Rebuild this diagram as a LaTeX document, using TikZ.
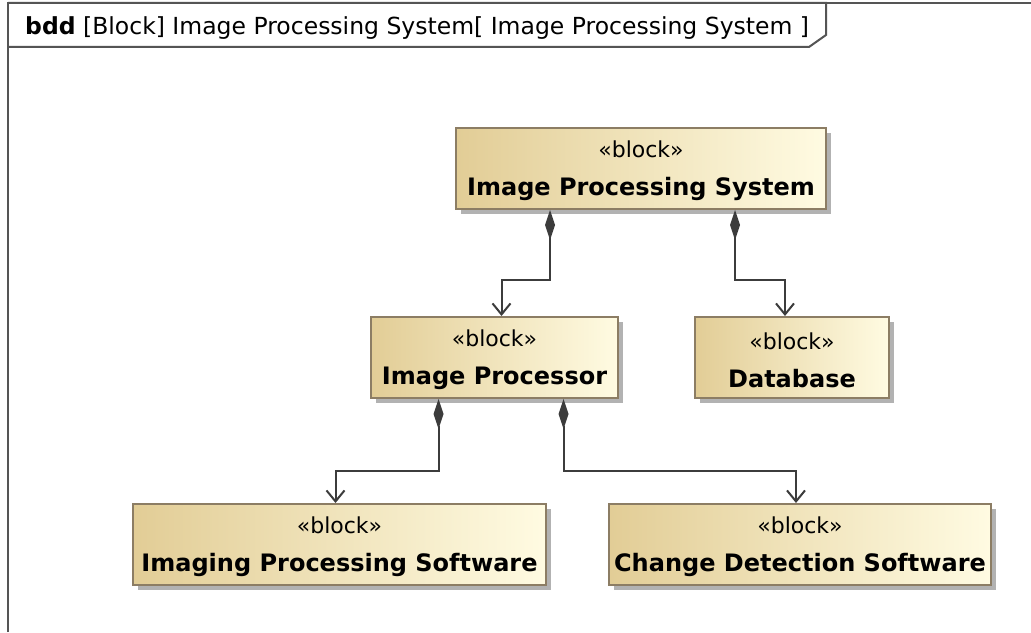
\documentclass[tikz,border=0pt]{standalone}
\usepackage{fontspec}
\setmainfont{DejaVu Sans}
\usetikzlibrary{arrows.meta,shadows}

\definecolor{blockline}{RGB}{140,125,100}
\definecolor{blockleft}{RGB}{226,205,150}
\definecolor{blockright}{RGB}{255,251,226}
\definecolor{wire}{RGB}{60,60,60}
\definecolor{framegray}{RGB}{85,85,85}

\newcommand{\blocktext}[1]{{\fontsize{22}{38}\selectfont\rule{0pt}{22pt}«block»}\\{\bfseries #1}}

\begin{document}
\begin{tikzpicture}[x=1pt, y=1pt,
    block/.style={draw=blockline, line width=2pt, left color=blockleft, right color=blockright,
        drop shadow={shadow xshift=5pt, shadow yshift=-5pt, fill=black!30, opacity=1},
        align=center, inner sep=0pt, minimum height=81pt, font=\fontsize{24}{38}\selectfont},
    comp/.style={wire, line width=2pt, {Diamond[length=30pt,width=10pt]}-{Straight Barb[length=11pt,width=18pt]}}]
    		\useasboundingbox (0,0) rectangle (1031,632);
    		\fill[white] (0,0) rectangle (1031,632);
    		\draw[framegray, line width=2pt] (8,0) -- (8,629) -- (1031,629);
    		\draw[framegray, line width=2pt] (8,629) -- (826,629) -- (826,597) -- (809,585) -- (8,585);
    		\node[anchor=base west, inner sep=0pt, font=\fontsize{23.5}{27}\selectfont] (title) at (25,597)
    			{\textbf{bdd} [Block] Image Processing System[ Image Processing System ]};
    		\node[block, minimum width=370pt] (ips) at (641,463.5) {\blocktext{Image Processing System}};
    		\node[block, minimum width=247pt] (ip) at (494.5,274.5) {\blocktext{Image Processor}};
    		\node[block, minimum width=194pt] (db) at (792,274.5) {\blocktext{Database}};
    		\node[block, minimum width=413pt] (ipsw) at (339.5,87.5) {\blocktext{Imaging Processing Software}};
    		\node[block, minimum width=382pt] (cds) at (800,87.5) {\blocktext{Change Detection Software}};
    		\draw[comp] ([xshift=-91pt]ips.south) -- ++(0,-70) -| ([xshift=7pt]ip.north);
    		\draw[comp] ([xshift=94pt]ips.south) -- ++(0,-70) -| ([xshift=-7pt]db.north);
    		\draw[comp] ([xshift=-56pt]ip.south) -- ++(0,-72) -| ([xshift=-4pt]ipsw.north);
    		\draw[comp] ([xshift=69pt]ip.south) -- ++(0,-72) -| ([xshift=-4pt]cds.north);
    	\end{tikzpicture}
\end{document}
